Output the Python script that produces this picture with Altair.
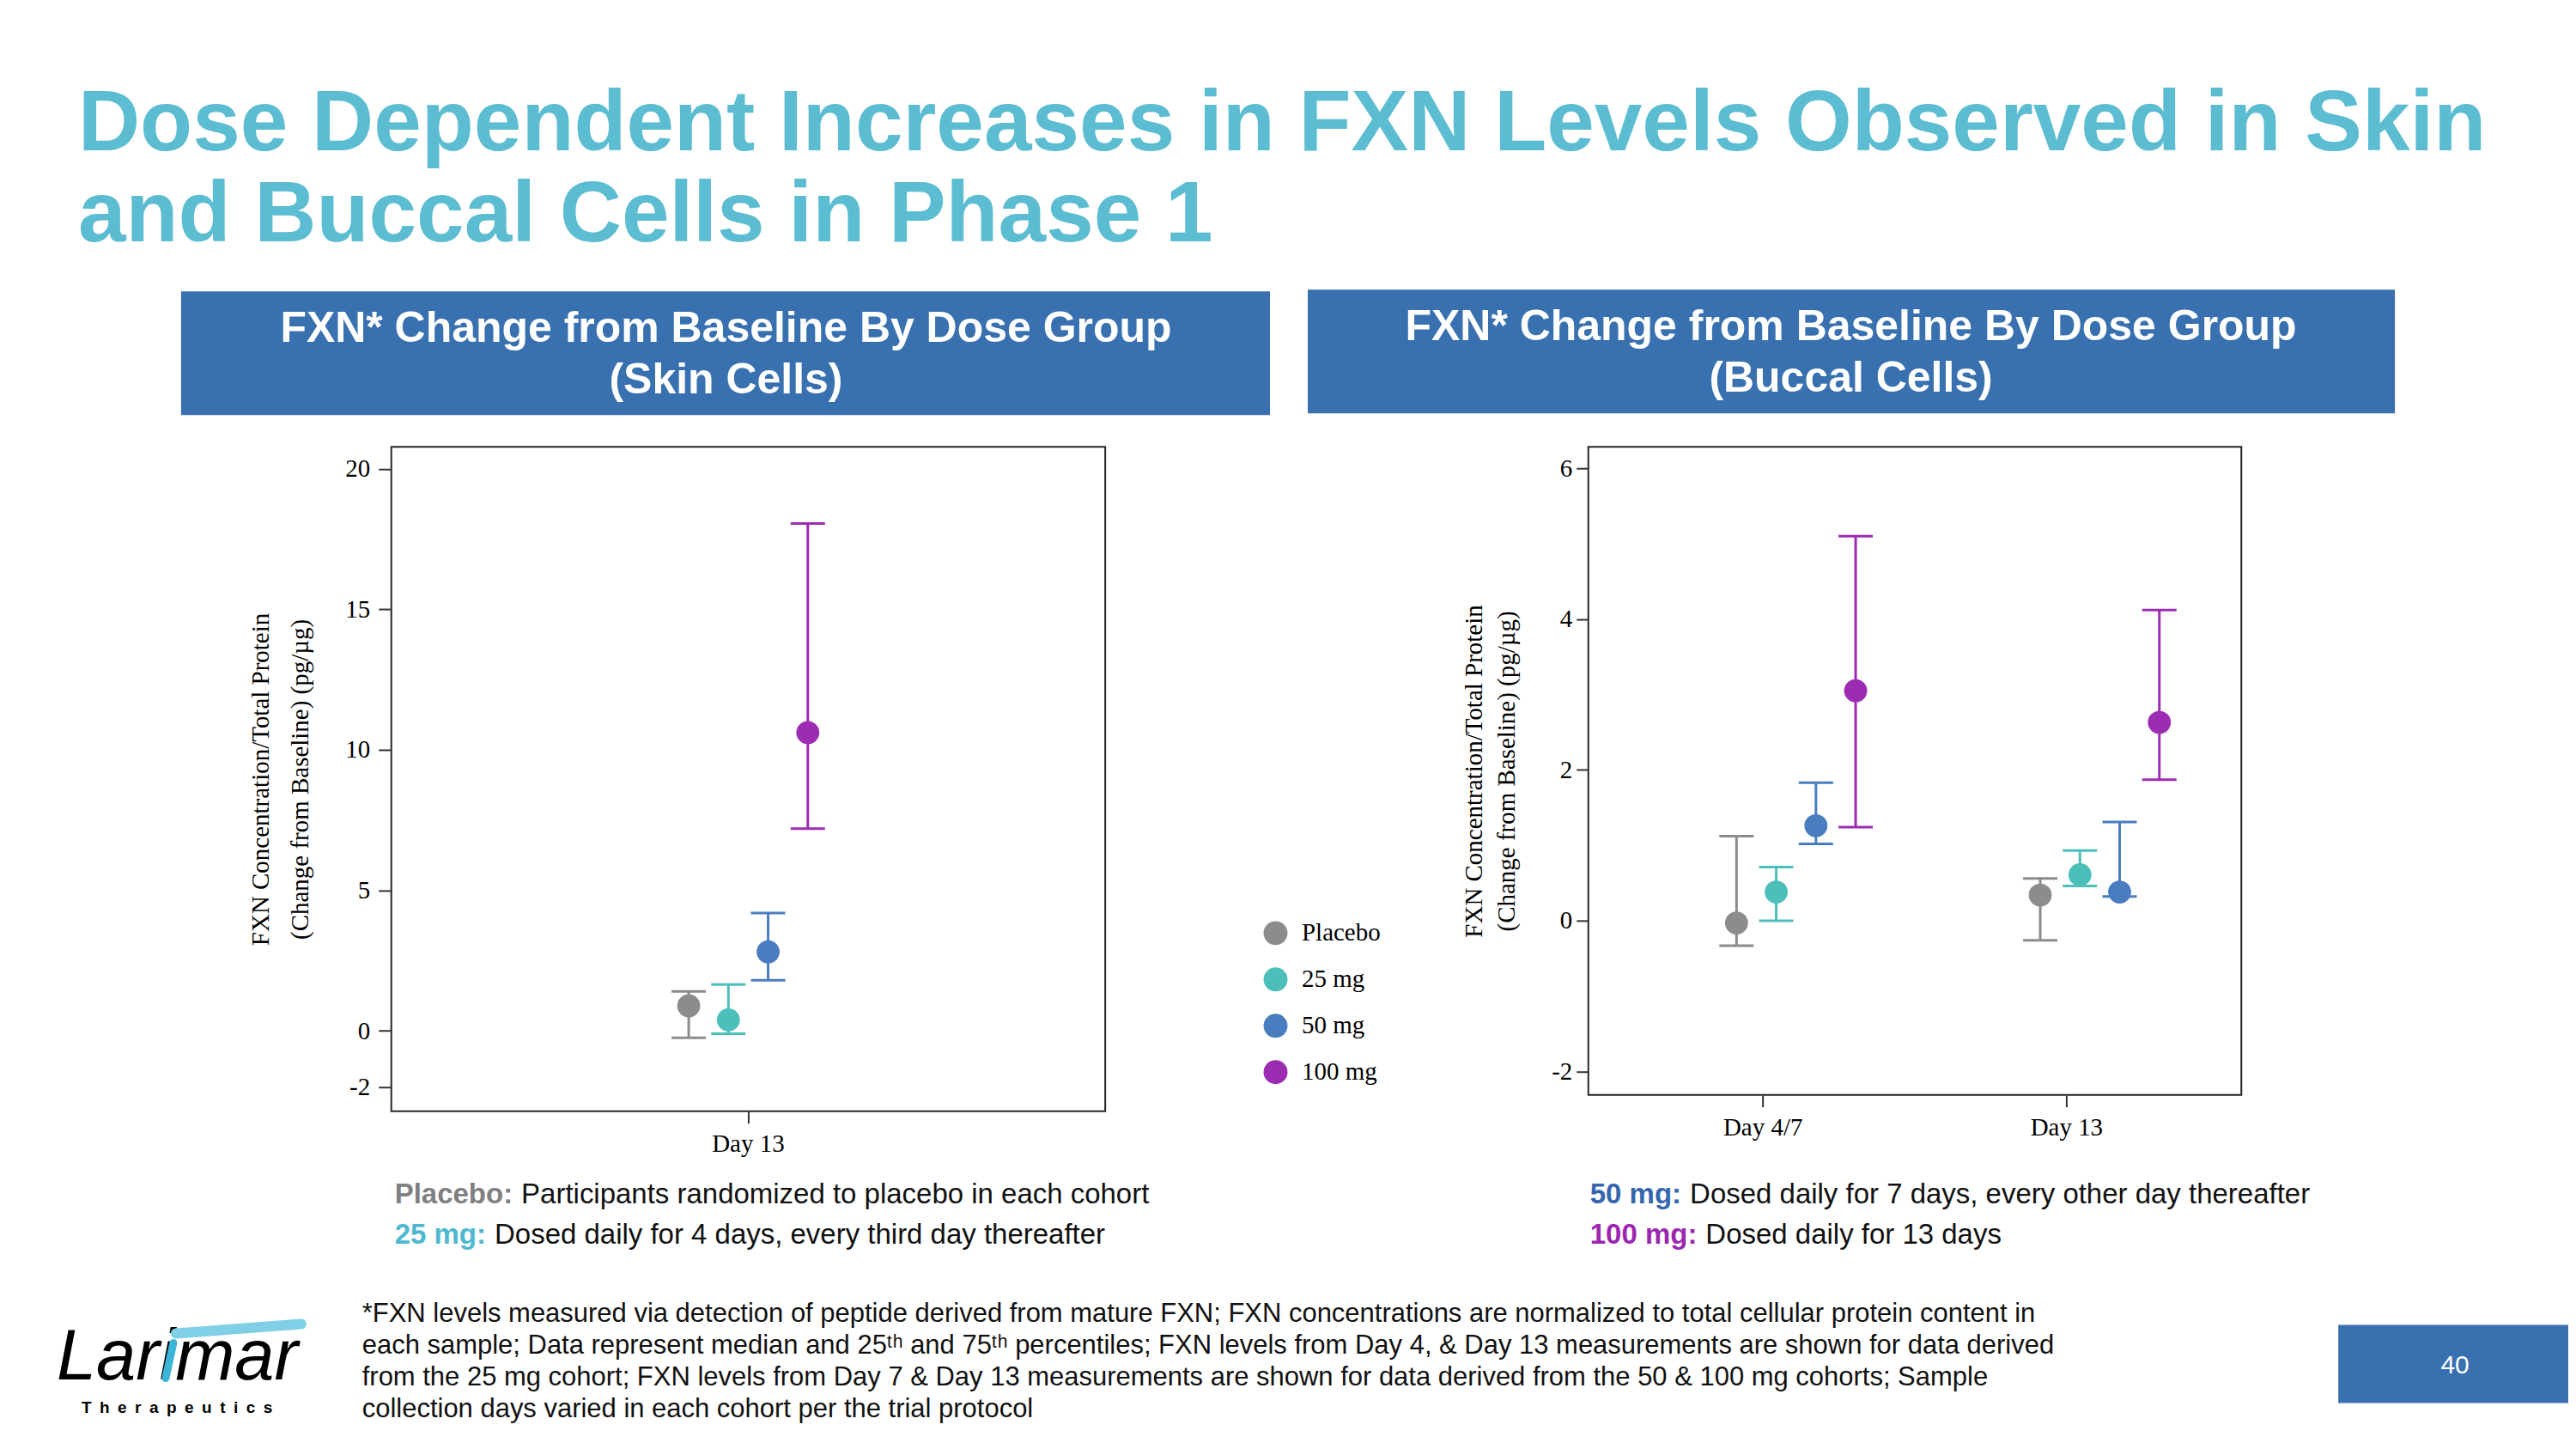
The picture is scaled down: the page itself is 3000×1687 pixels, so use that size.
import altair as alt
import pandas as pd

# ---------------- data ----------------
doses = ["Placebo", "25 mg", "50 mg", "100 mg"]
dose_colors = ["#8C8C8C", "#4CBFB9", "#4A7DC0", "#9C2DB3"]

skin_days = ["Day 13"]
skin_median = [0.89, 0.39, 2.81, 10.61]
skin_q25 = [-0.25, -0.10, 1.80, 7.19]
skin_q75 = [1.40, 1.65, 4.19, 18.05]

buccal_days = ["Day 4/7", "Day 13"]
buccal_median_d47 = [-0.03, 0.38, 1.26, 3.05]
buccal_q25_d47 = [-0.33, 0.00, 1.02, 1.24]
buccal_q75_d47 = [1.12, 0.71, 1.83, 5.10]
buccal_median_d13 = [0.34, 0.61, 0.38, 2.63]
buccal_q25_d13 = [-0.26, 0.46, 0.32, 1.87]
buccal_q75_d13 = [0.56, 0.93, 1.31, 4.12]

skin_ticks = [-2, 0, 5, 10, 15, 20]
buccal_ticks = [-2, 0, 2, 4, 6]

title_lines = ["Dose Dependent Increases in FXN Levels Observed in Skin",
               "and Buccal Cells in Phase 1"]
header_skin = ["FXN* Change from Baseline By Dose Group", "(Skin Cells)"]
header_buccal = ["FXN* Change from Baseline By Dose Group", "(Buccal Cells)"]
y_title = ["FXN Concentration/Total Protein", "(Change from Baseline) (pg/\u00b5g)"]

desc_labels = ["Placebo:", "25 mg:", "50 mg:", "100 mg:"]
desc_texts = ["Participants randomized to placebo in each cohort",
              "Dosed daily for 4 days, every third day thereafter",
              "Dosed daily for 7 days, every other day thereafter",
              "Dosed daily for 13 days"]
desc_colors = ["#808080", "#4DB8CF", "#3566AE", "#9B27AF"]

footnote_lines = [
    "*FXN levels measured via detection of peptide derived from mature FXN; FXN concentrations are normalized to total cellular protein content in",
    "each sample; Data represent median and 25\u1d57\u02b0 and 75\u1d57\u02b0 percentiles; FXN levels from Day 4, & Day 13 measurements are shown for data derived",
    "from the 25 mg cohort; FXN levels from Day 7 & Day 13 measurements are shown for data derived from the 50 & 100 mg cohorts; Sample",
    "collection days varied in each cohort per the trial protocol",
]
logo_name = "Larimar"
logo_sub = "T\u2002h\u2002e\u2002r\u2002a\u2002p\u2002e\u2002u\u2002t\u2002i\u2002c\u2002s"
page_number = "40"

skin_df = pd.DataFrame({
    "day": skin_days * len(doses),
    "dose": doses,
    "median": skin_median,
    "q25": skin_q25,
    "q75": skin_q75,
})
buccal_df = pd.DataFrame({
    "day": [buccal_days[0]] * 4 + [buccal_days[1]] * 4,
    "dose": doses + doses,
    "median": buccal_median_d47 + buccal_median_d13,
    "q25": buccal_q25_d47 + buccal_q25_d13,
    "q75": buccal_q75_d47 + buccal_q75_d13,
})

# ---------------- styling ----------------
SERIF = "Liberation Serif"
SANS = "Liberation Sans"
TITLE_C = "#5BBCD2"
BOX_C = "#3870B0"
FS = 29  # chart text size

OX, OY = 455, 519   # left plot origin on the page
ONE = alt.Data(values=[{}])


def txt(s, x, y, size, color="#111111", weight="normal", font=SANS,
        align="left", style="normal"):
    return alt.Chart(ONE).mark_text(
        text=s, font=font, fontSize=size, fontWeight=weight, fontStyle=style,
        color=color, align=align, baseline="alphabetic"
    ).encode(x=alt.value(x - OX), y=alt.value(y - OY))


def box(x1, y1, x2, y2, color, opacity=1.0):
    return alt.Chart(ONE).mark_rect(color=color, opacity=opacity).encode(
        x=alt.value(x1 - OX), x2=alt.value(x2 - OX),
        y=alt.value(y1 - OY), y2=alt.value(y2 - OY))


def stroke(x1, y1, x2, y2, color, width):
    return alt.Chart(ONE).mark_rule(color=color, strokeWidth=width,
                                    strokeCap="round").encode(
        x=alt.value(x1 - OX), x2=alt.value(x2 - OX),
        y=alt.value(y1 - OY), y2=alt.value(y2 - OY))


def panel(df, days, domain, ticks, pad_inner, pad_outer,
          tick_size, label_pad, title_pad, title_lh, legend):
    xenc = alt.X("day:N", sort=days,
                 scale=alt.Scale(domain=days, paddingInner=pad_inner,
                                 paddingOuter=pad_outer),
                 axis=alt.Axis(title=None, labelAngle=0, labelFont=SERIF,
                               labelFontSize=FS, labelColor="#000000",
                               tickSize=14, tickWidth=2, tickColor="#333333",
                               labelPadding=10, domain=False, grid=False))
    xoff = alt.XOffset("dose:N", sort=doses,
                       scale=alt.Scale(domain=doses, paddingInner=0,
                                       paddingOuter=0))
    yscale = alt.Scale(domain=domain, nice=False, zero=False)
    yaxis = alt.Axis(values=ticks, title=y_title, labelFont=SERIF,
                     labelFontSize=FS, labelColor="#000000",
                     labelExpr="toString(datum.value)",
                     tickSize=tick_size, tickWidth=2, tickColor="#333333",
                     labelPadding=label_pad, domain=False, grid=False,
                     titleFont=SERIF, titleFontSize=FS,
                     titleFontWeight="normal", titleColor="#000000",
                     titlePadding=title_pad, titleLineHeight=title_lh)
    dose_scale = alt.Scale(domain=doses, range=dose_colors)
    base = alt.Chart(df).encode(x=xenc, xOffset=xoff)
    pts = base.mark_circle(size=720, opacity=1).encode(
        y=alt.Y("median:Q", scale=yscale, axis=yaxis),
        color=alt.Color("dose:N", scale=dose_scale, legend=legend))
    rule = base.mark_rule(strokeWidth=3).encode(
        y=alt.Y("q25:Q", scale=yscale, axis=yaxis), y2="q75:Q",
        stroke=alt.Stroke("dose:N", scale=dose_scale, legend=None))
    lo = base.mark_tick(thickness=3, size=40, opacity=1).encode(
        y=alt.Y("q25:Q", scale=yscale, axis=yaxis),
        fill=alt.Fill("dose:N", scale=dose_scale, legend=None))
    hi = base.mark_tick(thickness=3, size=40, opacity=1).encode(
        y=alt.Y("q75:Q", scale=yscale, axis=yaxis),
        fill=alt.Fill("dose:N", scale=dose_scale, legend=None))
    return [rule, lo, hi, pts]


legend = alt.Legend(
    title=None, orient="none", legendX=1471 - OX, legendY=1071 - OY,
    symbolType="circle", symbolSize=780, symbolStrokeWidth=0,
    symbolOpacity=1,
    labelFont=SERIF, labelFontSize=FS, labelColor="#000000",
    labelOffset=16, rowPadding=24, padding=0)

left_layers = panel(skin_df, skin_days, [-2.86, 20.78], skin_ticks,
                    0.695, 0.533, 15, 10, 37, 46, legend)
right_layers = panel(buccal_df, buccal_days, [-2.31, 6.285], buccal_ticks,
                     0.695, 0.4225, 14, 5, 37, 38, None)

# ---------------- annotations (page coordinates) ----------------
ann = [box(8, 8, 2992, 1668, "#ffffff", 0.0)]
ann.append(txt(title_lines[0], 90, 174, 100, TITLE_C, "bold"))
ann.append(txt(title_lines[1], 90, 280, 100, TITLE_C, "bold"))
ann.append(box(210, 338, 1479, 482, BOX_C))
ann.append(box(1523, 336, 2790, 480, BOX_C))
ann.append(txt(header_skin[0], 845, 397, 50, "#ffffff", "bold", align="center"))
ann.append(txt(header_skin[1], 845, 457, 50, "#ffffff", "bold", align="center"))
ann.append(txt(header_buccal[0], 2156, 395, 50, "#ffffff", "bold", align="center"))
ann.append(txt(header_buccal[1], 2156, 455, 50, "#ffffff", "bold", align="center"))

desc_pos = [(459, 1400), (459, 1447), (1852, 1400), (1852, 1447)]
desc_w = [137.5, 106.4, 106.4, 124.7]   # width of the bold prefix at 33px
for lab, t, c, (px, py), w in zip(desc_labels, desc_texts, desc_colors,
                                  desc_pos, desc_w):
    ann.append(txt(lab, px, py, 33, c, "bold"))
    ann.append(txt(t, px + w + 10, py, 33, "#111111"))

for i, line in enumerate(footnote_lines):
    ann.append(txt(line, 421, 1538 + i * 37.3, 31, "#111111"))

# logo: word in black, the teal "i" stroke and the wave drawn on top
ann.append(txt(logo_name, 65, 1606, 83, "#000000", style="italic"))
ann.append(stroke(192, 1604, 201, 1563, "#3BB4D8", 9))
ann.append(stroke(204, 1552, 350, 1541, "#7FCFE6", 12))
ann.append(txt(logo_sub, 94, 1645, 19, "#000000", "bold"))

# page number
ann.append(box(2724, 1542, 2992, 1633, BOX_C))
ann.append(txt(page_number, 2860, 1599, 30, "#ffffff", align="center"))

left = alt.layer(*(ann + left_layers)).properties(width=832, height=774)
right = alt.layer(*right_layers).properties(width=761, height=755)

chart = alt.hconcat(left, right, spacing=563, bounds="flush").resolve_scale(
    color="independent").resolve_legend(color="independent").configure_view(
    stroke="#262626", strokeWidth=2).properties(padding=0, background="#ffffff")

chart.save("out.html", embed_options={"renderer": "svg", "actions": False})
